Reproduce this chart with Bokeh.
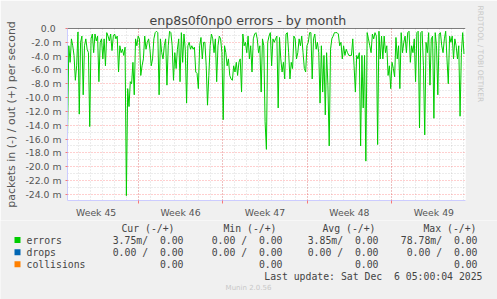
import numpy as np
from bokeh.plotting import figure
from bokeh.layouts import column
from bokeh.models import FixedTicker, Span, Range1d, Title
from bokeh.core.properties import value
from bokeh.embed import file_html
from bokeh.resources import INLINE

errors_w1 = [-15.6, -2.5, -4.9, -1.5, -2.5, -3.9, -7.5, -5.4, -0.5, -12.4, -2.0, -1.1, -9.6,
             -2.5, -1.5, -3.0, -3.5, -14.2, -1.5, -0.8, -3.5, -0.8, -1.8, -1.1, -7.7, -2.0,
             -1.5, -4.4, -1.5, -5.4, -0.6, -1.1, -1.8, -0.8, -3.2, -1.1, -0.8, -1.5, -1.1,
             -6.3, -2.5, -3.5, -3.0, -3.9, -2.7, -24.2, -8.7, -11.3, -7.7, -8.0, -4.9, -9.6,
             -1.5, -2.5, -1.1, -1.5, -6.8, -5.4, -4.4, -1.1, -3.0, -2.0, -1.5, -3.0, -5.4,
             -4.4, -1.5, -0.6, -0.4, -0.6, -9.6, -1.5, -3.5, -4.4, -2.5, -1.5, -8.2]
errors_w2 = [-2.5, -0.4, -0.6, -2.5, -7.5, -3.5, -5.8, -3.0, -1.5, -7.7, -0.6, -4.9, -0.8,
             -3.0, -10.8, -2.5, -2.0, -3.0, -2.5, -3.0, -2.7, -6.3, -6.5, -8.7, -2.5, -1.3,
             -4.4, -2.0, -2.0, -5.4, -11.1, -6.8, -2.5, -0.8, -1.5, -3.5, -1.5, -7.7, -2.5,
             -1.1, -1.5, -3.5, -13.2, -2.5, -3.5, -5.4, -4.4, -6.8, -7.3, -7.5, -5.4, -6.3,
             -4.9, -6.8, -4.9, -4.4, -9.2, -0.8, -2.5, -2.0, -3.5, -1.1, -4.4, -2.5, -6.3,
             -1.5, -0.8, -0.6, -1.5, -3.5, -2.5, -9.2, -1.5, -2.5, -13.5, -17.5]
errors_w3 = [-2.0, -1.1, -0.6, -5.4, -1.5, -2.0, -1.5, -1.1, -11.5, -1.3, -4.4, -6.3, -4.9,
             -7.3, -0.8, -0.6, -3.5, -7.3, -4.9, -5.8, -1.1, -1.5, -4.4, -3.5, -1.5, -2.5,
             -1.1, -3.5, -5.8, -6.3, -2.5, -2.0, -0.6, -0.6, -7.3, -1.5, -0.8, -3.0, -2.0,
             -3.5, -10.8, -2.5, -9.2, -3.9, -12.5, -3.5, -8.2, -17.0, -3.0, -1.5, -1.1, -0.6,
             -0.6, -0.6, -0.8, -2.5, -2.0, -4.4, -2.5, -3.9, -3.0, -3.5, -3.9, -3.9, -3.9,
             -1.5, -5.4, -9.2, -3.9, -4.4, -3.5, -17.0, -3.9, -11.5, -3.9, -19.2]
errors_w4 = [-0.6, -1.5, -2.5, -3.5, -0.8, -1.5, -0.6, -1.1, -16.8, -0.4, -4.4, -1.1, -4.4,
             -1.1, -3.5, -2.5, -6.8, -5.4, -8.7, -4.9, -5.8, -7.0, -1.3, -4.4, -2.5, -8.7,
             -0.6, -3.5, -2.0, -1.1, -3.5, -0.6, -0.4, -4.9, -2.5, -3.5, -1.5, -7.7, -0.6,
             -0.4, -14.4, -0.6, -0.4, -5.4, -15.4, -2.0, -3.5, -0.6, -8.2, -1.5, -1.1, -13.0,
             -0.6, -2.5, -9.6, -0.8, -0.6, -2.5, -3.5, -1.5, -0.4, -4.4, -8.0, -1.1, -2.0,
             -1.1, -4.4, -1.5, -2.5, -4.4, -2.5, -12.7, -3.5, -0.6, -3.7]
errors = errors_w1 + errors_w2 + errors_w3 + errors_w4

range_hours = 792
data_hours = 789
y_bottom = -24.9
week_bounds = [141, 309, 477, 645]
day_lines = list(range(21, 792, 24))
week_label_pos = [57, 225, 393, 561, 729]
week_labels = ["Week 45", "Week 46", "Week 47", "Week 48", "Week 49"]

y_major = list(range(0, -25, -2))
y_minor = list(range(-1, -25, -2))
y_labels = ["0.0\u00a0\u00a0"] + ["%.1f m" % v for v in y_major[1:]]

title = "enp8s0f0np0 errors - by month"
y_title = "packets in (-) / out (+) per second"
legend_names = ["errors", "drops", "collisions"]
legend_colors = ["#00CC00", "#0066B3", "#FF8000"]
col_headers = ["Cur (-/+)", "Min (-/+)", "Avg (-/+)", "Max (-/+)"]
col_in = [["3.75m/", "0.00 /", None], ["0.00 /", "0.00 /", None],
          ["3.85m/", "0.00 /", None], ["78.78m/", "0.00 /", None]]
col_out = [["0.00", "0.00", "0.00"]] * 4
last_update = ("Last update: Sat Dec", "6 05:00:04 2025")
version = "Munin 2.0.56"
watermark = "RRDTOOL / TOBI OETIKER"

FL, FT, FW, FH = 67, 28, 400, 175
W, H = 497, 299
H1 = 220
BG = "#F0F0F0"

x = np.linspace(0, data_hours, len(errors))

p = figure(width=W, height=H1, output_backend="svg", toolbar_location=None,
           x_range=Range1d(0, range_hours), y_range=Range1d(y_bottom, 0),
           min_border_left=FL, min_border_right=W - FL - FW,
           min_border_top=FT, min_border_bottom=H1 - FT - FH)
p.border_fill_color = BG
p.background_fill_color = "white"
p.outline_line_color = None

p.title.text = title
p.title.align = "left"
p.title.offset = 149 - FL
p.title.standoff = 2
p.title.text_font = "DejaVu Sans"
p.title.text_font_size = "12.6px"
p.title.text_font_style = "normal"
p.title.text_color = "#444444"

p.add_layout(Title(text=watermark, align="left", text_font="DejaVu Sans",
                   text_font_size="7.5px", text_font_style="normal",
                   text_color="#C8C8C8", standoff=21, offset=-23), "right")

p.xgrid.ticker = FixedTicker(ticks=week_bounds, minor_ticks=day_lines)
p.ygrid.ticker = FixedTicker(ticks=y_major, minor_ticks=y_minor)
for g in (p.xgrid, p.ygrid):
    g.grid_line_color = "#FF0000"
    g.grid_line_alpha = 0.38
    g.grid_line_dash = "1 2"
    g.minor_grid_line_color = "#808080"
    g.minor_grid_line_alpha = 0.3
    g.minor_grid_line_dash = "1 2"

tick_font = "DejaVu Sans"
p.xaxis.ticker = FixedTicker(ticks=week_label_pos, minor_ticks=week_bounds)
p.xaxis.major_label_overrides = dict(zip(week_label_pos, week_labels))
p.xaxis.major_tick_line_color = None
p.xaxis.major_tick_out = 0
p.xaxis.major_tick_in = 0
p.xaxis.minor_tick_out = 3
p.xaxis.minor_tick_in = 0
p.xaxis.minor_tick_line_color = "#FF0000"
p.xaxis.minor_tick_line_alpha = 0.5
p.xaxis.major_label_standoff = 3
p.yaxis.ticker = FixedTicker(ticks=y_major, minor_ticks=[])
p.yaxis.major_label_overrides = dict(zip(y_major, y_labels))
p.yaxis.major_tick_out = 2
p.yaxis.major_tick_in = 0
p.yaxis.major_tick_line_color = "#FF0000"
p.yaxis.major_tick_line_alpha = 0.5
p.yaxis.minor_tick_line_color = None
p.yaxis.major_label_standoff = 4
p.yaxis.axis_label = y_title
p.yaxis.axis_label_standoff = 4
p.yaxis.axis_label_text_font = tick_font
p.yaxis.axis_label_text_font_size = "11px"
p.yaxis.axis_label_text_font_style = "normal"
p.yaxis.axis_label_text_color = "#555555"
for ax in (p.xaxis, p.yaxis):
    ax.axis_line_color = "#CCCCFF"
    ax.major_label_text_font = tick_font
    ax.major_label_text_font_size = "9.3px"
    ax.major_label_text_color = "#555555"

p.line(x, errors, line_color="#00CC00", line_width=1)
p.add_layout(Span(location=0, dimension="width", line_color="black", line_width=1))

# ---- legend part: a plain figure whose coordinates are page pixels ----
q = figure(width=W, height=H - H1, output_backend="svg", toolbar_location=None,
           x_range=Range1d(0, W), y_range=Range1d(H, H1),
           x_axis_location=None, y_axis_location=None,
           min_border=0, min_border_left=0, min_border_right=0,
           min_border_top=0, min_border_bottom=0)
q.border_fill_color = BG
q.background_fill_color = BG
q.outline_line_color = None
q.grid.visible = False

for f in (p, q):
    try:
        f.frame_align = False
    except Exception:
        pass

mono = dict(text_font=value("DejaVu Sans Mono"), text_font_size="9.8px",
            text_color="#444444", text_baseline="middle")
cw = 5.9
col_right = [183, 282, 378, 477]
head_right = [174, 276, 375, 476]
row_y = [239.5, 251.7, 263.7]
header_y = 227.7

rx, ry, rt = [], [], []
lx, ly, lt = [], [], []
for hr, ht in zip(head_right, col_headers):
    rx.append(hr); ry.append(header_y); rt.append(ht)
for i, name in enumerate(legend_names):
    lx.append(26); ly.append(row_y[i]); lt.append(name)
    for c in range(4):
        if col_in[c][i] is not None:
            rx.append(col_right[c] - 6 * cw); ry.append(row_y[i]); rt.append(col_in[c][i])
        rx.append(col_right[c]); ry.append(row_y[i]); rt.append(col_out[c][i])
rx += [482 - 17 * cw, 482]; ry += [275.7, 275.7]; rt += list(last_update)

q.text(x=lx, y=ly, text=lt, text_align="left", **mono)
q.text(x=rx, y=ry, text=rt, text_align="right", **mono)
q.quad(left=[14] * 3, right=[20] * 3, top=[yy - 3 for yy in row_y],
       bottom=[yy + 3 for yy in row_y], fill_color=legend_colors, line_color=None)
q.text(x=[248], y=[287.7], text=[version], text_align="center", text_baseline="middle",
       text_font=value("DejaVu Sans"), text_font_size="7px", text_color="#C8C8C8")

layout = column(p, q, spacing=0)
open("out.html", "w").write(file_html(layout, INLINE))
